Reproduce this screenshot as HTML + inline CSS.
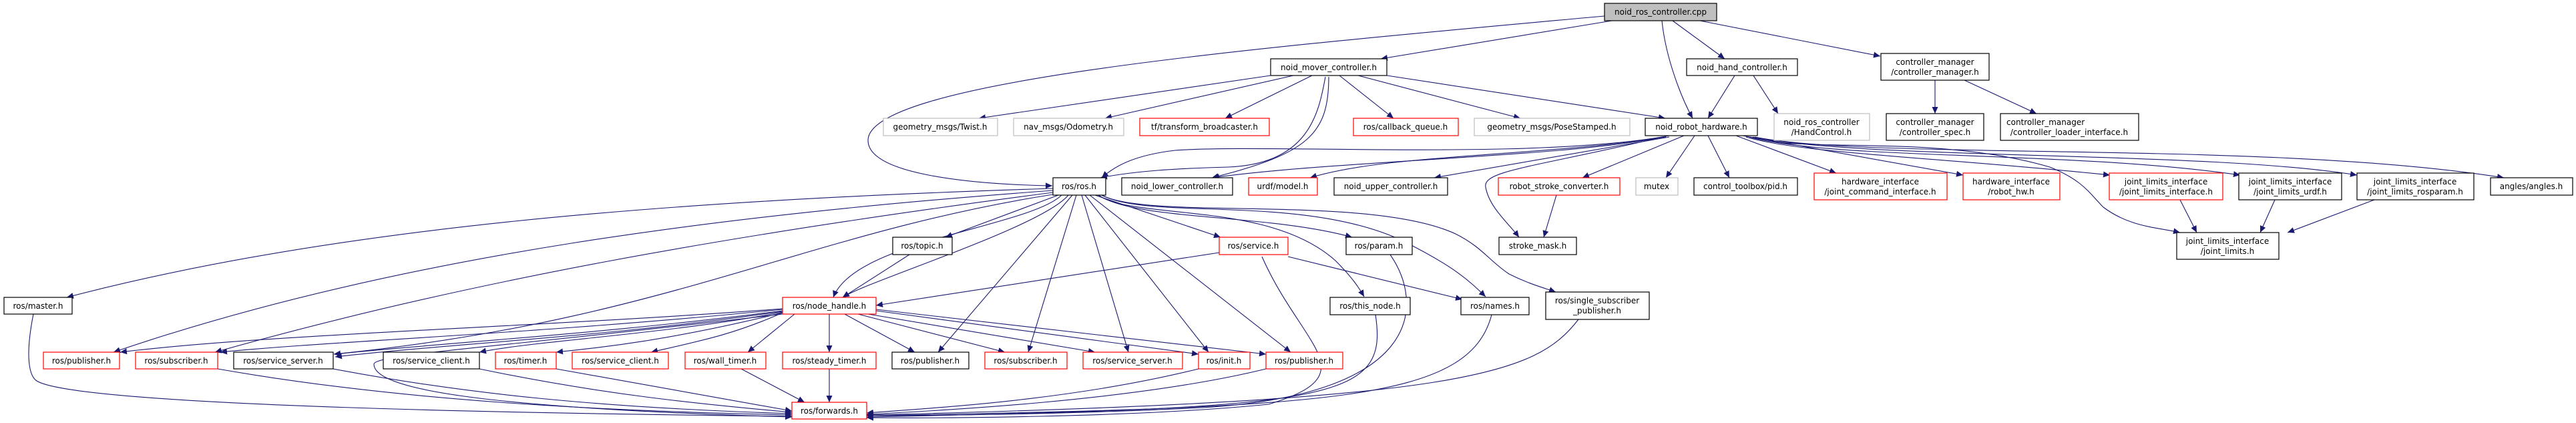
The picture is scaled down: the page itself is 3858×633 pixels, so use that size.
<!DOCTYPE html>
<html><head><meta charset="utf-8"><style>
html,body{margin:0;padding:0;background:#fff;}
svg{display:block;}
text{font-family:"DejaVu Sans","Liberation Sans",sans-serif;font-size:12px;fill:#000;}
.e{fill:none;stroke:#191970;stroke-width:1.1;marker-end:url(#a);}
.k{fill:#fff;stroke:#000;stroke-width:1.2;}
.r{fill:#fff;stroke:#ff0000;stroke-width:1.2;}
.g{fill:#fff;stroke:#bfbfbf;stroke-width:1.2;}
</style></head><body>
<svg width="3858" height="633" viewBox="0 0 3858 633" xmlns="http://www.w3.org/2000/svg">
<defs><marker id="a" markerUnits="userSpaceOnUse" markerWidth="11" markerHeight="9" refX="10" refY="4.5" orient="auto"><path d="M0,0 L10,4.5 L0,9 z" fill="#191970"/></marker></defs>

<path class="e" d="M2403,24 C1900,70 1300,120 1300,210 C1300,262 1460,276 1576,278"/>
<path class="e" d="M2414,31 L2068,88"/>
<path class="e" d="M2489,31 C2495,90 2520,150 2535,177"/>
<path class="e" d="M2505,31 L2583,88"/>
<path class="e" d="M2546,31 L2816,84"/>
<path class="e" d="M1903,113 L1466,177"/>
<path class="e" d="M1937,113 L1655,177"/>
<path class="e" d="M1965,113 L1835,177"/>
<path class="e" d="M2006,113 L2087,177"/>
<path class="e" d="M2034,113 L2277,177"/>
<path class="e" d="M2077,113 L2494,177"/>
<path class="e" d="M1985,115 C1975,170 1960,245 1840,250 C1760,252 1700,256 1648,266"/>
<path class="e" d="M1990,115 C1990,200 1960,230 1815,266"/>
<path class="e" d="M2598,113 L2558,177"/>
<path class="e" d="M2626,113 L2663,170"/>
<path class="e" d="M2898,120 L2898,170"/>
<path class="e" d="M2942,120 L3050,170"/>
<path class="e" d="M2500,203 C2300,240 1900,215 1760,225 C1700,232 1670,248 1650,266"/>
<path class="e" d="M2490,205 C2350,235 2000,240 1816,266"/>
<path class="e" d="M2495,205 C2300,235 2080,230 1962,266"/>
<path class="e" d="M2500,205 L2148,266"/>
<path class="e" d="M2522,203 L2370,266"/>
<path class="e" d="M2538,203 L2495,266"/>
<path class="e" d="M2558,203 L2590,266"/>
<path class="e" d="M2490,205 C2300,250 2220,255 2225,280 C2230,310 2260,335 2275,355"/>
<path class="e" d="M2600,203 L2750,259"/>
<path class="e" d="M2610,203 L2940,262"/>
<path class="e" d="M2615,205 C2700,230 2900,235 3160,262"/>
<path class="e" d="M2620,205 C2750,240 3100,225 3355,262"/>
<path class="e" d="M2625,205 C2800,240 3300,225 3530,262"/>
<path class="e" d="M2628,205 C2800,240 3400,210 3750,266"/>
<path class="e" d="M2620,205 C2700,230 2900,200 3070,250 C3120,270 3130,290 3150,310 C3190,340 3230,340 3265,348"/>
<path class="e" d="M2331,292 L2312,355"/>
<path class="e" d="M3265,299 L3290,348"/>
<path class="e" d="M3407,299 L3385,348"/>
<path class="e" d="M3556,299 L3426,348"/>
<path class="e" d="M1577,282 C1000,300 500,340 100,445"/>
<path class="e" d="M1577,285 C1100,320 600,380 170,527"/>
<path class="e" d="M1577,288 C1100,350 700,420 322,527"/>
<path class="e" d="M1577,291 C1200,350 1000,480 500,530"/>
<path class="e" d="M1590,292 C1540,340 1280,360 1248,445"/>
<path class="e" d="M1600,292 C1560,340 1300,420 1262,445"/>
<path class="e" d="M1585,292 L1416,355"/>
<path class="e" d="M1606,292 L1405,527"/>
<path class="e" d="M1612,292 L1540,527"/>
<path class="e" d="M1620,292 L1690,527"/>
<path class="e" d="M1625,292 L1810,527"/>
<path class="e" d="M1632,292 L1933,527"/>
<path class="e" d="M1640,292 L1828,355"/>
<path class="e" d="M1645,292 C1700,330 1900,320 2025,355"/>
<path class="e" d="M1645,292 C1700,330 1900,300 2000,390 C2025,415 2035,430 2043,444"/>
<path class="e" d="M1650,292 C1720,330 1950,290 2100,360 C2180,400 2200,420 2225,444"/>
<path class="e" d="M1650,292 C1720,330 2050,290 2180,350 C2220,370 2230,390 2260,410 C2290,425 2310,430 2330,437"/>
<path class="e" d="M1362,381 L1262,445"/>
<path class="e" d="M1826,378 L1312,457"/>
<path class="e" d="M1929,384 L2190,448"/>
<path class="e" d="M1890,384 C1950,520 2050,560 1900,605 C1700,625 1400,626 1298,625"/>
<path class="e" d="M2082,381 C2130,450 2140,590 1800,610 C1600,620 1400,622 1298,622"/>
<path class="e" d="M2060,471 C2080,600 2000,610 1298,624"/>
<path class="e" d="M2234,471 C2200,600 2000,610 1298,622"/>
<path class="e" d="M2364,478 C2300,560 2200,600 1298,621"/>
<path class="e" d="M1795,552 C1600,600 1400,610 1298,618"/>
<path class="e" d="M1896,552 C1700,600 1400,615 1298,620"/>
<path class="e" d="M50,470 C40,520 40,560 55,570 C120,610 900,620 1186,623"/>
<path class="e" d="M326,552 C600,600 900,615 1186,621"/>
<path class="e" d="M499,552 C700,590 900,610 1186,619"/>
<path class="e" d="M718,552 C900,590 1050,605 1186,617"/>
<path class="e" d="M833,552 L1186,615"/>
<path class="e" d="M1110,552 L1205,602"/>
<path class="e" d="M1242,552 L1242,602"/>
<path class="e" d="M1172,462 C800,490 400,500 180,527"/>
<path class="e" d="M1172,463 C800,500 500,510 330,527"/>
<path class="e" d="M1172,465 C900,500 700,510 500,530"/>
<path class="e" d="M1172,466 C900,505 700,512 502,534"/>
<path class="e" d="M1172,467 C1000,500 800,510 718,527"/>
<path class="e" d="M1172,468 C1000,510 900,520 833,527"/>
<path class="e" d="M1172,468 C1100,500 1050,510 975,527"/>
<path class="e" d="M1172,470 C750,520 560,530 560,545 C560,580 700,610 1186,624"/>
<path class="e" d="M1190,470 L1120,527"/>
<path class="e" d="M1242,470 L1242,527"/>
<path class="e" d="M1265,470 L1370,527"/>
<path class="e" d="M1285,470 L1505,527"/>
<path class="e" d="M1300,470 L1640,527"/>
<path class="e" d="M1312,465 L1795,530"/>
<path class="e" d="M1312,463 L1896,530"/>

<g>
<rect x="2403" y="5" width="168" height="26" fill="#bfbfbf" stroke="#000" stroke-width="1.2"/><text x="2487" y="22" text-anchor="middle">noid_ros_controller.cpp</text>
<rect class="k" x="1903" y="88" width="174" height="25"/><text x="1990" y="105" text-anchor="middle">noid_mover_controller.h</text>
<rect class="k" x="2526" y="88" width="166" height="25"/><text x="2609" y="105" text-anchor="middle">noid_hand_controller.h</text>
<rect class="k" x="2817" y="80" width="162" height="40"/><text x="2898" y="97" text-anchor="middle">controller_manager</text><text x="2898" y="112" text-anchor="middle">/controller_manager.h</text>
<rect class="g" x="1323" y="177" width="171" height="26"/><text x="1408" y="194" text-anchor="middle">geometry_msgs/Twist.h</text>
<rect class="g" x="1518" y="177" width="165" height="26"/><text x="1600" y="194" text-anchor="middle">nav_msgs/Odometry.h</text>
<rect class="r" x="1707" y="177" width="194" height="26"/><text x="1804" y="194" text-anchor="middle">tf/transform_broadcaster.h</text>
<rect class="r" x="2027" y="177" width="157" height="26"/><text x="2105" y="194" text-anchor="middle">ros/callback_queue.h</text>
<rect class="g" x="2208" y="177" width="233" height="26"/><text x="2324" y="194" text-anchor="middle">geometry_msgs/PoseStamped.h</text>
<rect class="k" x="2464" y="177" width="168" height="26"/><text x="2548" y="194" text-anchor="middle">noid_robot_hardware.h</text>
<rect class="g" x="2657" y="170" width="143" height="40"/><text x="2728" y="187" text-anchor="middle">noid_ros_controller</text><text x="2728" y="202" text-anchor="middle">/HandControl.h</text>
<rect class="k" x="2825" y="170" width="146" height="40"/><text x="2898" y="187" text-anchor="middle">controller_manager</text><text x="2898" y="202" text-anchor="middle">/controller_spec.h</text>
<rect class="k" x="2996" y="170" width="207" height="40"/><text x="3005" y="187">controller_manager</text><text x="3099" y="202" text-anchor="middle">/controller_loader_interface.h</text>
<rect class="k" x="1577" y="266" width="79" height="26"/><text x="1616" y="283" text-anchor="middle">ros/ros.h</text>
<rect class="k" x="1680" y="266" width="166" height="26"/><text x="1763" y="283" text-anchor="middle">noid_lower_controller.h</text>
<rect class="r" x="1870" y="266" width="103" height="26"/><text x="1921" y="283" text-anchor="middle">urdf/model.h</text>
<rect class="k" x="1998" y="266" width="170" height="26"/><text x="2083" y="283" text-anchor="middle">noid_upper_controller.h</text>
<rect class="r" x="2244" y="266" width="182" height="26"/><text x="2335" y="283" text-anchor="middle">robot_stroke_converter.h</text>
<rect class="g" x="2450" y="266" width="63" height="26"/><text x="2481" y="283" text-anchor="middle">mutex</text>
<rect class="k" x="2537" y="266" width="155" height="26"/><text x="2614" y="283" text-anchor="middle">control_toolbox/pid.h</text>
<rect class="r" x="2717" y="259" width="199" height="40"/><text x="2816" y="276" text-anchor="middle">hardware_interface</text><text x="2816" y="291" text-anchor="middle">/joint_command_interface.h</text>
<rect class="r" x="2940" y="259" width="145" height="40"/><text x="3012" y="276" text-anchor="middle">hardware_interface</text><text x="3012" y="291" text-anchor="middle">/robot_hw.h</text>
<rect class="r" x="3159" y="259" width="170" height="40"/><text x="3244" y="276" text-anchor="middle">joint_limits_interface</text><text x="3244" y="291" text-anchor="middle">/joint_limits_interface.h</text>
<rect class="k" x="3353" y="259" width="154" height="40"/><text x="3430" y="276" text-anchor="middle">joint_limits_interface</text><text x="3430" y="291" text-anchor="middle">/joint_limits_urdf.h</text>
<rect class="k" x="3530" y="259" width="175" height="40"/><text x="3617" y="276" text-anchor="middle">joint_limits_interface</text><text x="3617" y="291" text-anchor="middle">/joint_limits_rosparam.h</text>
<rect class="k" x="3730" y="266" width="123" height="26"/><text x="3791" y="283" text-anchor="middle">angles/angles.h</text>
<rect class="k" x="1337" y="355" width="89" height="26"/><text x="1381" y="372" text-anchor="middle">ros/topic.h</text>
<rect class="r" x="1826" y="355" width="103" height="26"/><text x="1877" y="372" text-anchor="middle">ros/service.h</text>
<rect class="k" x="2016" y="355" width="99" height="26"/><text x="2065" y="372" text-anchor="middle">ros/param.h</text>
<rect class="k" x="2245" y="355" width="116" height="26"/><text x="2303" y="372" text-anchor="middle">stroke_mask.h</text>
<rect class="k" x="3260" y="348" width="153" height="40"/><text x="3336" y="365" text-anchor="middle">joint_limits_interface</text><text x="3336" y="380" text-anchor="middle">/joint_limits.h</text>
<rect class="k" x="6" y="445" width="102" height="25"/><text x="57" y="462" text-anchor="middle">ros/master.h</text>
<rect class="r" x="1172" y="445" width="140" height="25"/><text x="1242" y="462" text-anchor="middle">ros/node_handle.h</text>
<rect class="k" x="1992" y="445" width="120" height="26"/><text x="2052" y="462" text-anchor="middle">ros/this_node.h</text>
<rect class="k" x="2188" y="445" width="102" height="26"/><text x="2239" y="462" text-anchor="middle">ros/names.h</text>
<rect class="k" x="2315" y="437" width="155" height="41"/><text x="2392" y="454" text-anchor="middle">ros/single_subscriber</text><text x="2392" y="469" text-anchor="middle">_publisher.h</text>
<rect class="r" x="65" y="527" width="114" height="25"/><text x="122" y="544" text-anchor="middle">ros/publisher.h</text>
<rect class="r" x="203" y="527" width="123" height="25"/><text x="264" y="544" text-anchor="middle">ros/subscriber.h</text>
<rect class="k" x="350" y="527" width="149" height="25"/><text x="424" y="544" text-anchor="middle">ros/service_server.h</text>
<rect class="k" x="574" y="527" width="144" height="25"/><text x="646" y="544" text-anchor="middle">ros/service_client.h</text>
<rect class="r" x="742" y="527" width="91" height="25"/><text x="787" y="544" text-anchor="middle">ros/timer.h</text>
<rect class="r" x="857" y="527" width="144" height="25"/><text x="929" y="544" text-anchor="middle">ros/service_client.h</text>
<rect class="r" x="1026" y="527" width="121" height="25"/><text x="1086" y="544" text-anchor="middle">ros/wall_timer.h</text>
<rect class="r" x="1172" y="527" width="140" height="25"/><text x="1242" y="544" text-anchor="middle">ros/steady_timer.h</text>
<rect class="k" x="1336" y="527" width="115" height="25"/><text x="1393" y="544" text-anchor="middle">ros/publisher.h</text>
<rect class="r" x="1475" y="527" width="123" height="25"/><text x="1536" y="544" text-anchor="middle">ros/subscriber.h</text>
<rect class="r" x="1622" y="527" width="149" height="25"/><text x="1696" y="544" text-anchor="middle">ros/service_server.h</text>
<rect class="r" x="1795" y="527" width="77" height="25"/><text x="1833" y="544" text-anchor="middle">ros/init.h</text>
<rect class="r" x="1896" y="527" width="115" height="25"/><text x="1953" y="544" text-anchor="middle">ros/publisher.h</text>
<rect class="r" x="1186" y="602" width="112" height="25"/><text x="1242" y="619" text-anchor="middle">ros/forwards.h</text>
</g>
</svg>
</body></html>
